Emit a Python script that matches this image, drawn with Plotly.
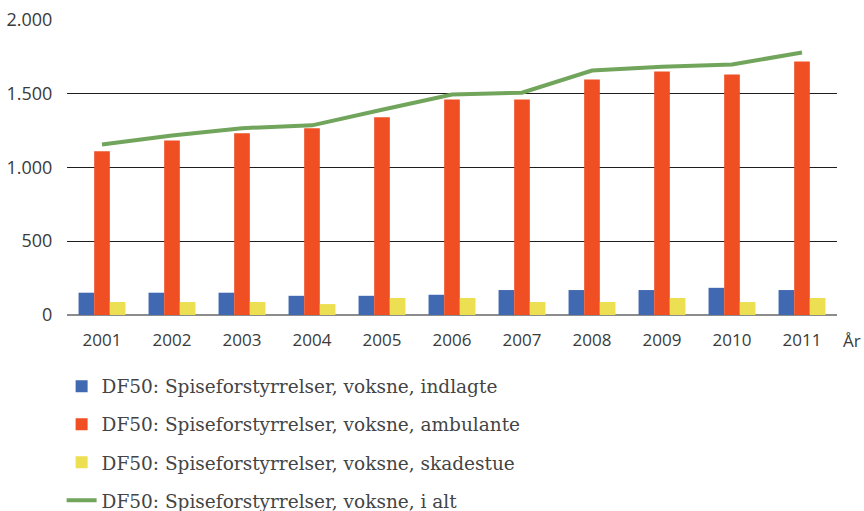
import plotly.graph_objects as go

years = ["2001", "2002", "2003", "2004", "2005", "2006", "2007", "2008", "2009", "2010", "2011"]
indlagte = [151, 151, 151, 130, 130, 137, 169, 169, 169, 184, 169]
ambulante = [1108, 1182, 1230, 1264, 1338, 1459, 1459, 1595, 1649, 1628, 1716]
skadestue = [88, 88, 88, 74, 115, 115, 88, 88, 115, 88, 115]
i_alt = [1155, 1215, 1265, 1284, 1390, 1493, 1505, 1655, 1680, 1696, 1777]

names = [
    "DF50: Spiseforstyrrelser, voksne, indlagte",
    "DF50: Spiseforstyrrelser, voksne, ambulante",
    "DF50: Spiseforstyrrelser, voksne, skadestue",
    "DF50: Spiseforstyrrelser, voksne, i alt",
]
colors = ["#4169B2", "#F04E23", "#EDDF52", "#72A55C"]

font_family = "Open Sans, Lato, sans-serif"
legend_family = "DejaVu Serif, serif"
text_color = "#3a3a3a"

fig = go.Figure()
for i, (vals, nm) in enumerate(zip([indlagte, ambulante, skadestue], names[:3])):
    fig.add_trace(go.Bar(x=years, y=vals, name=nm, marker_color=colors[i],
                         marker_line_width=0, legendgroup=f"g{i}"))
fig.add_trace(go.Scatter(x=years, y=i_alt, name=names[3], mode="lines",
                         line=dict(color=colors[3], width=4), legendgroup="g3"))

fig.update_layout(
    width=864, height=511,
    margin=dict(l=67, r=27, t=19, b=196, autoexpand=False),
    paper_bgcolor="white", plot_bgcolor="white",
    barmode="group", bargap=0.33, bargroupgap=0,
    separators=",.",
    font=dict(family=font_family, color=text_color, size=16),
    showlegend=True,
    legend=dict(
        orientation="v", x=-0.007, xanchor="left", y=-0.178, yanchor="top",
        font=dict(size=18.5, color="#444444", family=legend_family),
        tracegroupgap=11, traceorder="grouped", itemwidth=30,
    ),
    xaxis=dict(
        type="category", showgrid=False, ticks="outside", ticklen=10,
        tickcolor="rgba(0,0,0,0)", tickfont=dict(size=17, color=text_color),
        showline=False, zeroline=False,
    ),
    yaxis=dict(
        range=[0, 2004], dtick=500, tickformat=",.0f", showgrid=True,
        gridcolor="#1e1e1e", gridwidth=1, zeroline=True, zerolinecolor="#8c8c8c",
        zerolinewidth=2, ticks="outside", ticklen=10, tickcolor="rgba(0,0,0,0)",
        tickfont=dict(size=18, color=text_color), showline=False,
    ),
)
fig.add_annotation(text="År", xref="paper", yref="paper", x=1.005, y=-0.085,
                   xanchor="left", yanchor="middle", showarrow=False,
                   font=dict(size=17, color=text_color, family=font_family))

fig.write_html("out.html", config={"displayModeBar": False},
               post_script="document.body.style.margin='0';")
